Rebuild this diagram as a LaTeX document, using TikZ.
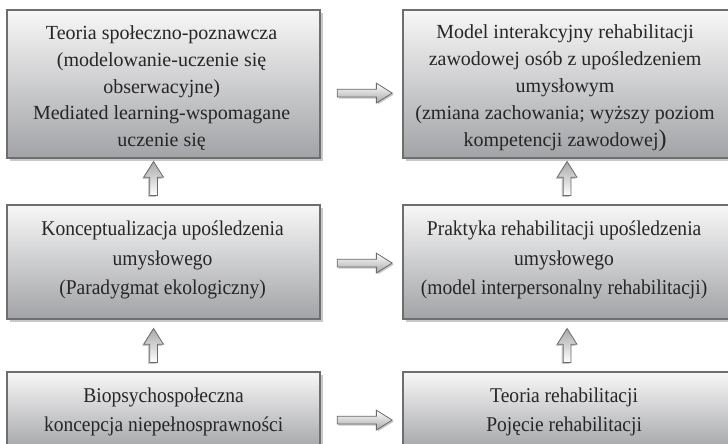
\documentclass[tikz,border=0pt]{standalone}
\usepackage{fontspec}
\setmainfont{Liberation Serif}
\newfontfamily\narrowserif[FakeStretch=0.93]{Liberation Serif}
\usetikzlibrary{shapes.arrows,shadows,calc}

\definecolor{boxline}{HTML}{6E6E6E}
\definecolor{boxbottom}{HTML}{A2A3A6}
\definecolor{shadowgray}{HTML}{C8C8C8}
\definecolor{arrowline}{HTML}{6A6A6A}
\definecolor{arrowdark}{HTML}{A8A8A8}

\tikzset{
  box/.style={
    draw=boxline, line width=2.2pt, inner sep=0pt, anchor=north west,
    top color=white!97!black, bottom color=boxbottom,
    drop shadow={shadow xshift=2.5pt, shadow yshift=-3pt, fill=shadowgray, opacity=1}
  },
  boxtext/.style={align=center, text=black!85, inner sep=0pt},
  wide/.style={boxtext, font=\fontsize{20}{26.8}\selectfont},
  narrow/.style={boxtext, font=\narrowserif\fontsize{21}{29.5}\selectfont},
  blockarrow/.style={
    single arrow, draw=arrowline, line width=0.8pt, inner sep=3.5pt,
    minimum width=19pt, single arrow head extend=6pt,
    single arrow tip angle=64
  },
  harrow/.style={blockarrow, minimum height=55pt, top color=white, bottom color=arrowdark,
    drop shadow={shadow xshift=1.5pt, shadow yshift=-1.5pt, fill=shadowgray, opacity=1}},
  varrow/.style={blockarrow, minimum height=34pt, rotate=90,
    top color=arrowdark, bottom color=white,
    drop shadow={shadow xshift=-1.5pt, shadow yshift=-1.5pt, fill=shadowgray, opacity=1}}
}

\begin{document}
\begin{tikzpicture}[x=1pt,y=-1pt]
\useasboundingbox (0,0) rectangle (728,444);

% boxes
\node[box, minimum width=313pt, minimum height=148pt] (tl) at (6,9) {};
\node[box, minimum width=328pt, minimum height=148pt] (tr) at (402,9) {};
\node[box, minimum width=313pt, minimum height=114pt] (ml) at (6,204) {};
\node[box, minimum width=328pt, minimum height=114pt] (mr) at (402,204) {};
\node[box, minimum width=313pt, minimum height=80pt] (bl) at (6,371) {};
\node[box, minimum width=328pt, minimum height=80pt] (br) at (402,371) {};

% box texts
\node[wide] (tl-text) at ($(tl.center)+(-2,4)$)
  {Teoria społeczno-poznawcza\\(modelowanie-uczenie się\\obserwacyjne)\\Mediated learning-wspomagane\\uczenie się};
\node[wide] (tr-text) at ($(tr.center)+(-2,4)$)
  {Model interakcyjny rehabilitacji\\zawodowej osób z upośledzeniem\\umysłowym\\(zmiana zachowania; wyższy poziom\\kompetencji zawodowej{\fontsize{24}{26.8}\selectfont)}};
\node[narrow] (ml-text) at ($(ml.center)+(-1,-2)$)
  {Konceptualizacja upośledzenia\\umysłowego\\(Paradygmat ekologiczny)};
\node[narrow] (mr-text) at ($(mr.center)+(-3,-2)$)
  {Praktyka rehabilitacji upośledzenia\\umysłowego\\(model interpersonalny rehabilitacji)};
\node[narrow] (bl-text) at ($(bl.center)+(0,0)$)
  {Biopsychospołeczna\\koncepcja niepełnosprawności};
\node[narrow] (br-text) at ($(br.center)+(-3,0)$)
  {Teoria rehabilitacji\\Pojęcie rehabilitacji};

% horizontal block arrows
\node[harrow] (h1) at ($(tl.east)!0.5!(tr.west)+(0,9)$) {};
\node[harrow] (h2) at ($(ml.east)!0.5!(mr.west)+(0,1)$) {};
\node[harrow] (h3) at ($(bl.east)!0.5!(br.west)+(0,8)$) {};

% vertical block arrows
\node[varrow] (v1) at ($(ml.north)!0.5!(tl.south)+(-10,0)$) {};
\node[varrow] (v2) at ($(mr.north)!0.5!(tr.south)$) {};
\node[varrow] (v3) at ($(bl.north)!0.5!(ml.south)+(-10,3)$) {};
\node[varrow] (v4) at ($(br.north)!0.5!(mr.south)+(0,3)$) {};
\end{tikzpicture}
\end{document}
